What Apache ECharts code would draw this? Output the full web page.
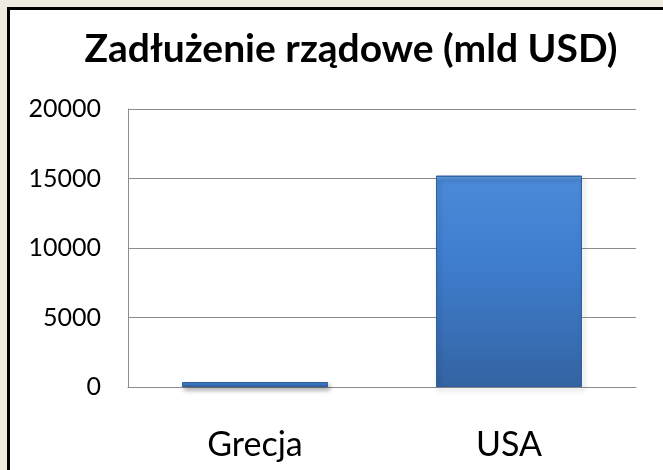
<!DOCTYPE html>
<html>
<head>
<meta charset="utf-8">
<script src="https://cdn.jsdelivr.net/npm/echarts@6/dist/echarts.min.js"></script>
<style>
html,body{
  margin:0;
  padding:0;
  background:#efebe0;
  overflow:hidden;
}
.frame{
  position:absolute;
  left:7px;
  top:7px;
  right:0;
  bottom:0;
  background:#fff;
  border-left:3px solid #000;
  border-top:3px solid #000;
}
#chart{
  position:absolute;
  left:0;
  top:0;
  width:663px;
  height:470px;
}
</style>
</head>
<body>
<div class="frame"></div>
<div id="chart"></div>
<script>
// dane
const kraje = ['Grecja', 'USA'];
const zadluzenie = [350, 15200];
const osY = [0, 5000, 10000, 15000, 20000];

let myecharts = echarts.init(document.getElementById('chart'))
let option = {
  backgroundColor: 'transparent',
  title: {
    text: 'Zadłużenie rządowe (mld USD)',
    left: 346,
    textAlign: 'center',
    top: 25,
    textStyle: {
      fontFamily: 'Lato',
      fontWeight: 'bold',
      fontSize: 39,
      color: '#000'
    }
  },
  grid: {
    left: 128,
    right: 27,
    top: 109,
    bottom: 83
  },
  xAxis: {
    type: 'category',
    data: kraje,
    axisLine: {lineStyle: {color: '#8c8c8c', width: 1}},
    axisTick: {show: false},
    axisLabel: {
      margin: 41,
      fontFamily: 'Lato',
      fontSize: 34,
      color: '#000'
    }
  },
  yAxis: {
    type: 'value',
    min: osY[0],
    max: osY[osY.length - 1],
    interval: 5000,
    axisLine: {show: true, lineStyle: {color: '#8c8c8c', width: 1}},
    axisTick: {show: false},
    splitLine: {lineStyle: {color: '#8c8c8c', width: 1}},
    axisLabel: {
      margin: 27,
      fontFamily: 'Lato',
      fontSize: 25,
      color: '#000',
      formatter: function (v) { return String(v) }
    }
  },
  series: [
    {
      type: 'bar',
      data: zadluzenie,
      barWidth: 146,
      itemStyle: {
        color: new echarts.graphic.LinearGradient(0, 0, 0, 1, [
          {offset: 0, color: '#6aa6ec'},
          {offset: 0.02, color: '#4a8ad8'},
          {offset: 0.4, color: '#3f7ecf'},
          {offset: 1, color: '#3464a3'}
        ]),
        borderColor: '#2f5f9c',
        borderWidth: 1,
        shadowColor: 'rgba(0,0,0,0.35)',
        shadowBlur: 5,
        shadowOffsetX: 2,
        shadowOffsetY: 3
      }
    }
  ]
};
myecharts.setOption(option)
</script>
</body>
</html>
